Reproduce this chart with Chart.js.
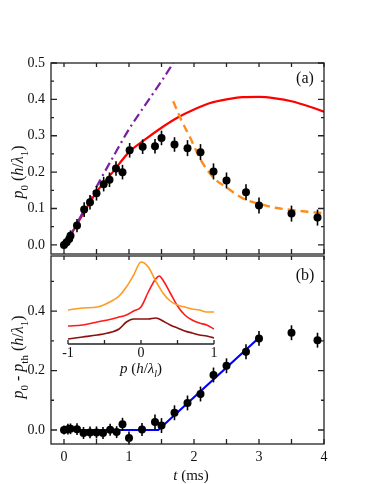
<!DOCTYPE html>
<html>
<head>
<meta charset="utf-8">
<script src="https://cdn.jsdelivr.net/npm/chart.js@4"></script>
<style>
  html, body { margin: 0; padding: 0; background: #fff; }
  #wrap { position: relative; width: 374px; height: 484px; }
  #wrap canvas { position: absolute; left: 0; top: 0; }
</style>
</head>
<body>
<div id="wrap">
  <canvas id="chartA" width="374" height="484"></canvas>
  <canvas id="chartB" width="374" height="484"></canvas>
  <canvas id="chartInset" width="374" height="484"></canvas>
</div>
<script>
// ---- panel (a): p0 vs t ----
const timesA = [0, 0.04, 0.08, 0.1, 0.2, 0.31, 0.4, 0.5, 0.61, 0.7, 0.8, 0.9, 1.01, 1.21, 1.4, 1.5, 1.7, 1.9, 2.1, 2.3, 2.5, 2.8, 3.0, 3.5, 3.9];
const p0A    = [0.0, 0.007, 0.016, 0.025, 0.053, 0.097, 0.117, 0.142, 0.167, 0.179, 0.21, 0.2, 0.26, 0.27, 0.271, 0.294, 0.276, 0.266, 0.255, 0.202, 0.177, 0.145, 0.108, 0.086, 0.075];
const errA   = [0.01, 0.012, 0.012, 0.015, 0.018, 0.02, 0.02, 0.02, 0.02, 0.02, 0.02, 0.02, 0.02, 0.02, 0.02, 0.02, 0.02, 0.022, 0.022, 0.022, 0.022, 0.022, 0.022, 0.022, 0.022];

const fitT = [0.08, 0.25, 0.5, 0.75, 1.0, 1.25, 1.5, 1.75, 2.0, 2.25, 2.5, 2.75, 3.0, 3.25, 3.5, 3.75, 4.0];
const fitP = [0.02, 0.072, 0.145, 0.2, 0.255, 0.29, 0.322, 0.35, 0.372, 0.39, 0.4, 0.406, 0.407, 0.403, 0.395, 0.382, 0.366];

const freeT = [0.08, 0.25, 0.5, 0.75, 1.0, 1.25, 1.5, 1.68];
const freeP = [0.02, 0.076, 0.16, 0.24, 0.318, 0.385, 0.45, 0.5];

const decayT = [1.68, 1.8, 1.94, 2.1, 2.3, 2.5, 2.75, 3.0, 3.25, 3.5, 3.75, 4.0];
const decayP = [0.395, 0.345, 0.295, 0.235, 0.185, 0.158, 0.128, 0.113, 0.102, 0.096, 0.091, 0.087];

// ---- panel (b): p0 - pth vs t ----
const timesB = [0, 0.06, 0.1, 0.2, 0.3, 0.4, 0.5, 0.6, 0.71, 0.81, 0.9, 1.0, 1.2, 1.4, 1.5, 1.7, 1.9, 2.1, 2.3, 2.5, 2.8, 3.0, 3.5, 3.9];
const dpB    = [0.0, 0.003, 0.004, 0.003, -0.01, -0.008, -0.008, -0.01, 0.001, -0.007, 0.019, -0.027, 0.002, 0.027, 0.015, 0.058, 0.091, 0.121, 0.185, 0.216, 0.263, 0.308, 0.327, 0.302];
const errB   = [0.015, 0.018, 0.018, 0.02, 0.02, 0.02, 0.02, 0.02, 0.02, 0.02, 0.022, 0.022, 0.022, 0.025, 0.025, 0.025, 0.025, 0.025, 0.025, 0.025, 0.025, 0.025, 0.025, 0.025];

const threshT = [0, 1.45, 3.0];
const threshP = [0, 0, 0.31];

// ---- inset: momentum distributions ----
const insetP      = [-1, -0.8, -0.6, -0.4, -0.3, -0.2, -0.1, 0, 0.1, 0.2, 0.25, 0.3, 0.4, 0.5, 0.6, 0.7, 0.8, 0.9, 1];
const distOrange  = [0.34, 0.36, 0.37, 0.43, 0.48, 0.57, 0.69, 0.82, 0.77, 0.63, 0.57, 0.51, 0.43, 0.39, 0.37, 0.35, 0.34, 0.32, 0.32];
const distRed     = [0.18, 0.19, 0.22, 0.25, 0.27, 0.29, 0.33, 0.37, 0.52, 0.65, 0.68, 0.64, 0.51, 0.38, 0.29, 0.24, 0.21, 0.19, 0.15];
const distDarkRed = [0.05, 0.07, 0.09, 0.12, 0.15, 0.22, 0.25, 0.25, 0.25, 0.26, 0.25, 0.23, 0.19, 0.16, 0.13, 0.11, 0.09, 0.08, 0.06];

// ---- ticks ----
const xTicks = [0, 1, 2, 3, 4];
const xMarks = [0, 0.5, 1, 1.5, 2, 2.5, 3, 3.5, 4];
const yTicksA = [0, 0.1, 0.2, 0.3, 0.4, 0.5];
const yMinorA = [0.05, 0.15, 0.25, 0.35, 0.45];
const yTicksB = [0, 0.2, 0.4];
const yMinorB = [0.1, 0.3, 0.5];
const insetTicks = [-1, 0, 1];
const insetMarks = [-1, -0.5, 0, 0.5, 1];

const SERIF = '"Liberation Serif", "Times New Roman", serif';
const INK = '#111';

const pts = (xs, ys) => xs.map((x, i) => ({ x: x, y: ys[i] }));

function drawRich(ctx, parts, x, y, size, rotate) {
  const fontFor = p => (p.i ? 'italic ' : '') + (p.sub ? Math.round(size * 0.68) : size) + 'px ' + SERIF;
  ctx.save();
  ctx.translate(x, y);
  if (rotate) ctx.rotate(-Math.PI / 2);
  let w = 0;
  parts.forEach(p => { ctx.font = fontFor(p); w += ctx.measureText(p.t).width; });
  let cx = -w / 2;
  ctx.fillStyle = INK;
  ctx.textBaseline = 'alphabetic';
  parts.forEach(p => {
    ctx.font = fontFor(p);
    ctx.fillText(p.t, cx, size * 0.33 + (p.sub ? size * 0.28 : 0));
    cx += ctx.measureText(p.t).width;
  });
  ctx.restore();
}

function richText(items) {
  return {
    id: 'richText',
    afterDraw(chart) {
      items.forEach(it => drawRich(chart.ctx, it.parts, it.x, it.y, it.size, it.rotate));
    }
  };
}

function frame(cfg) {
  return {
    id: 'frame',
    afterDatasetsDraw(chart) {
      const { ctx, chartArea: a, scales } = chart;
      ctx.save();
      ctx.strokeStyle = '#222';
      ctx.lineWidth = 1.3;
      ctx.strokeRect(a.left, a.top, a.right - a.left, a.bottom - a.top);
      ctx.beginPath();
      cfg.xMarks.forEach(v => {
        const px = scales.x.getPixelForValue(v);
        ctx.moveTo(px, a.bottom); ctx.lineTo(px, a.bottom - 5);
        ctx.moveTo(px, a.top); ctx.lineTo(px, a.top + 4);
      });
      const yMark = (v, len) => {
        const py = scales.y.getPixelForValue(v);
        ctx.moveTo(a.left, py); ctx.lineTo(a.left + len, py);
        ctx.moveTo(a.right, py); ctx.lineTo(a.right - len, py);
      };
      cfg.yMajor.forEach(v => yMark(v, 6));
      cfg.yMinor.forEach(v => yMark(v, 3));
      ctx.stroke();
      ctx.restore();
    }
  };
}

const errorBars = {
  id: 'errorBars',
  afterDatasetsDraw(chart) {
    const ctx = chart.ctx;
    chart.data.datasets.forEach((ds, i) => {
      if (!ds.errors) return;
      const meta = chart.getDatasetMeta(i);
      const ys = chart.scales[meta.yAxisID];
      ctx.save();
      ctx.strokeStyle = '#000';
      ctx.lineWidth = 1.6;
      meta.data.forEach((el, j) => {
        const v = ds.data[j].y, e = ds.errors[j];
        ctx.beginPath();
        ctx.moveTo(el.x, ys.getPixelForValue(v - e));
        ctx.lineTo(el.x, ys.getPixelForValue(v + e));
        ctx.stroke();
      });
      ctx.restore();
    });
  }
};

const tickFont = { family: SERIF, size: 14 };

function yAxis(min, max, ticks) {
  return {
    type: 'linear', min: min, max: max,
    afterFit: s => { s.width = 51; },
    afterBuildTicks: s => { s.ticks = ticks.map(v => ({ value: v })); },
    grid: { display: false, drawTicks: false },
    border: { display: false },
    ticks: { padding: 6, color: INK, font: tickFont, callback: v => v.toFixed(1) }
  };
}

const pointStyle = { showLine: false, pointRadius: 4, pointHoverRadius: 4, backgroundColor: '#000', borderWidth: 0 };
const lineStyle = (color, width, dash, straight) => ({
  showLine: true, pointRadius: 0, borderColor: color, borderWidth: width,
  borderDash: dash || [], fill: false,
  cubicInterpolationMode: straight ? 'default' : 'monotone', tension: 0
});

// panel (a)
new Chart(document.getElementById('chartA'), {
  type: 'scatter',
  data: {
    datasets: [
      Object.assign({ data: pts(timesA, p0A), errors: errA }, pointStyle),
      Object.assign({ data: pts(decayT, decayP) }, lineStyle('#ff8c1a', 2.4, [8, 5])),
      Object.assign({ data: pts(freeT, freeP) }, lineStyle('#7a1fa0', 2.2, [9, 4, 2, 4])),
      Object.assign({ data: pts(fitT, fitP) }, lineStyle('#ff0000', 2.2))
    ]
  },
  options: {
    responsive: false,
    animation: false,
    layout: { padding: { left: 0, right: 50, top: 63, bottom: 230 } },
    plugins: { legend: { display: false }, tooltip: { enabled: false } },
    scales: {
      x: { type: 'linear', min: -0.2, max: 4, display: false },
      y: yAxis(-0.025, 0.5, yTicksA)
    }
  },
  plugins: [
    errorBars,
    frame({ xMarks: xMarks, yMajor: yTicksA, yMinor: yMinorA }),
    richText([
      { parts: [{ t: 'p', i: 1 }, { t: '0', sub: 1 }, { t: ' (' }, { t: 'h', i: 1 }, { t: '/' }, { t: 'λ', i: 1 }, { t: '1', sub: 1 }, { t: ')' }], x: 18, y: 172, size: 16, rotate: true },
      { parts: [{ t: '(a)' }], x: 305, y: 78, size: 16 }
    ])
  ]
});

// panel (b)
new Chart(document.getElementById('chartB'), {
  type: 'scatter',
  data: {
    datasets: [
      Object.assign({ data: pts(timesB, dpB), errors: errB }, pointStyle),
      Object.assign({ data: pts(threshT, threshP) }, lineStyle('#0000ff', 2.2, null, true))
    ]
  },
  options: {
    responsive: false,
    animation: false,
    layout: { padding: { left: 0, right: 50, top: 256, bottom: 15 } },
    plugins: { legend: { display: false }, tooltip: { enabled: false } },
    scales: {
      x: {
        type: 'linear', min: -0.2, max: 4,
        afterFit: s => { s.height = 25; },
        afterBuildTicks: s => { s.ticks = xTicks.map(v => ({ value: v })); },
        grid: { display: false, drawTicks: false },
        border: { display: false },
        ticks: { padding: 5, color: INK, font: tickFont, maxRotation: 0 }
      },
      y: yAxis(-0.047, 0.585, yTicksB)
    }
  },
  plugins: [
    errorBars,
    frame({ xMarks: xMarks, yMajor: yTicksB, yMinor: yMinorB }),
    richText([
      { parts: [{ t: 'p', i: 1 }, { t: '0', sub: 1 }, { t: ' - ' }, { t: 'p', i: 1 }, { t: 'th', sub: 1 }, { t: ' (' }, { t: 'h', i: 1 }, { t: '/' }, { t: 'λ', i: 1 }, { t: '1', sub: 1 }, { t: ')' }], x: 18, y: 357, size: 16, rotate: true },
      { parts: [{ t: 't', i: 1 }, { t: ' (ms)' }], x: 191, y: 475, size: 15 },
      { parts: [{ t: '(b)' }], x: 305, y: 275, size: 16 }
    ])
  ]
});

// inset
const insetAxis = {
  id: 'insetAxis',
  afterDatasetsDraw(chart) {
    const { ctx, chartArea: a, scales } = chart;
    ctx.save();
    ctx.strokeStyle = '#222';
    ctx.lineWidth = 1.3;
    ctx.beginPath();
    ctx.moveTo(a.left, a.bottom); ctx.lineTo(a.right, a.bottom);
    insetMarks.forEach(v => {
      const px = scales.x.getPixelForValue(v);
      ctx.moveTo(px, a.bottom); ctx.lineTo(px, a.bottom - 4);
    });
    ctx.stroke();
    ctx.restore();
  }
};

new Chart(document.getElementById('chartInset'), {
  type: 'scatter',
  data: {
    datasets: [
      Object.assign({ data: pts(insetP, distOrange) }, lineStyle('#ff9a22', 1.6)),
      Object.assign({ data: pts(insetP, distRed) }, lineStyle('#ff1a1a', 1.6)),
      Object.assign({ data: pts(insetP, distDarkRed) }, lineStyle('#8b1010', 1.6))
    ]
  },
  options: {
    responsive: false,
    animation: false,
    layout: { padding: { left: 68, right: 160, top: 259, bottom: 118 } },
    plugins: { legend: { display: false }, tooltip: { enabled: false } },
    scales: {
      x: {
        type: 'linear', min: -1, max: 1,
        afterFit: s => { s.height = 22; },
        afterBuildTicks: s => { s.ticks = insetTicks.map(v => ({ value: v })); },
        grid: { display: false, drawTicks: false },
        border: { display: false },
        ticks: { padding: 1, color: INK, font: tickFont, maxRotation: 0 }
      },
      y: { type: 'linear', min: 0, max: 0.85, display: false }
    }
  },
  plugins: [
    insetAxis,
    richText([
      { parts: [{ t: 'p', i: 1 }, { t: ' (' }, { t: 'h', i: 1 }, { t: '/' }, { t: 'λ', i: 1 }, { t: 'l', i: 1, sub: 1 }, { t: ')' }], x: 141, y: 368, size: 15 }
    ])
  ]
});
</script>
</body>
</html>
